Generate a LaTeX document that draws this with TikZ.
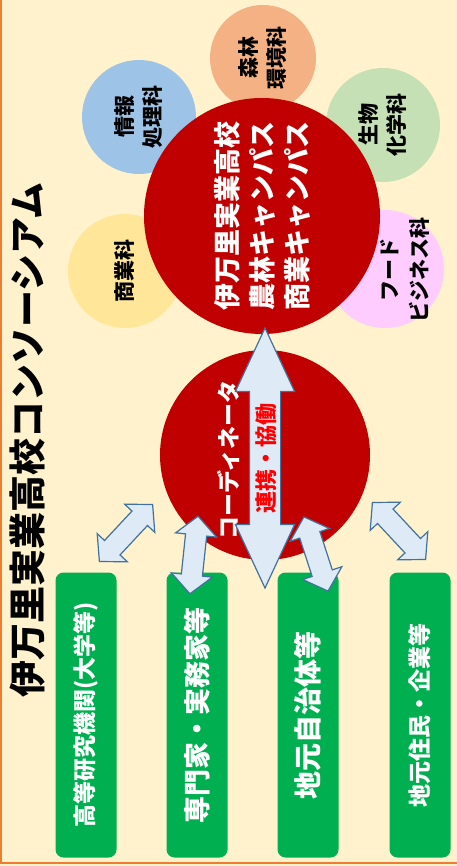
\documentclass[tikz,border=0pt]{standalone}
\usepackage{fontspec}
\setmainfont{Noto Sans CJK JP}
\usetikzlibrary{shapes.arrows}

\definecolor{haikei}{HTML}{FFF2CC}
\definecolor{waku}{HTML}{ED7D31}
\definecolor{shinrin}{HTML}{F4B183}
\definecolor{joho}{HTML}{9DC3E6}
\definecolor{seibutsu}{HTML}{C5E0B4}
\definecolor{shogyo}{HTML}{FFE699}
\definecolor{food}{HTML}{FFCCFF}
\definecolor{aka}{HTML}{C00000}
\definecolor{yaji}{HTML}{DEEBF7}
\definecolor{yajisen}{HTML}{41719C}
\definecolor{midori}{HTML}{00B050}

\tikzset{
  gakka/.style={circle, inner sep=0pt, minimum size=#1, align=center, rotate=90,
    font=\bfseries\fontsize{21}{28}\selectfont},
  akamaru/.style={circle, fill=aka, inner sep=0pt, minimum size=#1, align=center,
    rotate=90, text=white},
  yajirushi/.style={double arrow, fill=yaji, draw=yajisen, line width=1.2pt,
    inner sep=0pt, minimum width=0pt, rotate=#1},
  kogata/.style={yajirushi=#1, minimum height=78pt,
    double arrow head extend=10pt, double arrow tip angle=95}
  ,
  dantai/.style={rounded corners=8pt, fill=midori, minimum width=285pt,
    minimum height=61pt, rotate=90, text=white}
}
\newcommand{\shaft}[1]{\rule{0pt}{#1}}

\begin{document}
\begin{tikzpicture}[x=1pt,y=-1pt]
  \useasboundingbox (0,0) rectangle (457,866);
  % haikei
  \fill[haikei] (0,0) rectangle (457,866);
  \draw[waku, line width=2pt] (1,0) -- (1,863) -- (457,863);

  % title
  \node[rotate=90, font=\bfseries\fontsize{37}{40}\selectfont] (title) at (28,440) {伊万里実業高校コンソーシアム};

  % gakka
  \node[gakka=106pt, fill=shinrin] (shinrin) at (263,58) {森林\\環境科};
  \node[gakka=114pt, fill=joho] (joho) at (139,117) {情報\\処理科};
  \node[gakka=114pt, fill=seibutsu] (seibutsu) at (383,125) {生物\\化学科};
  \node[gakka=114pt, fill=shogyo] (shogyo) at (125,271) {商業科};
  \node[gakka=118pt, fill=food] (food) at (385,269) {};
  \node[rotate=90, align=center, font=\bfseries\fontsize{21}{30}\selectfont] (foodtext) at (405,270) {フード\\ビジネス科};

  % kou
  \node[akamaru=236pt, font=\bfseries\fontsize{27}{35}\selectfont] (kou) at (262,216) {伊万里実業高校\\農林キャンパス\\商業キャンパス};

  % coordinator
  \node[akamaru=210pt] (coord) at (265,455) {};
  \node[rotate=90, text=white, font=\bfseries\fontsize{23}{28}\selectfont] (coordtext) at (228,460) {コーディネータ};

  % renkei
  \node[yajirushi=90, minimum height=260pt, inner xsep=2pt,
    double arrow head extend=14pt, double arrow tip angle=50,
    text=red, font=\bfseries\fontsize{22}{26}\selectfont] (renkei) at (265,458) {\shaft{24pt}連携・協働\rule[-6pt]{0pt}{6pt}};

  % dantai
  \node[dantai, font=\bfseries\fontsize{23}{28}\selectfont] (daigaku) at (86,715) {高等研究機関(大学等)};
  \node[dantai, font=\bfseries\fontsize{27}{30}\selectfont] (senmon) at (197,715) {専門家・実務家等};
  \node[dantai, font=\bfseries\fontsize{28}{30}\selectfont] (jichitai) at (308,715) {地元自治体等};
  \node[dantai, font=\bfseries\fontsize{23}{28}\selectfont] (jumin) at (420,715) {地元住民・企業等};

  % kogata yajirushi
  \node[kogata=47] (y1) at (126,533) {\shaft{20pt}};
  \node[kogata=84] (y2) at (194,555) {\shaft{20pt}};
  \node[kogata=108] (y3) at (316,554) {\shaft{20pt}};
  \node[kogata=133] (y4) at (399,531) {\shaft{20pt}};
\end{tikzpicture}
\end{document}
